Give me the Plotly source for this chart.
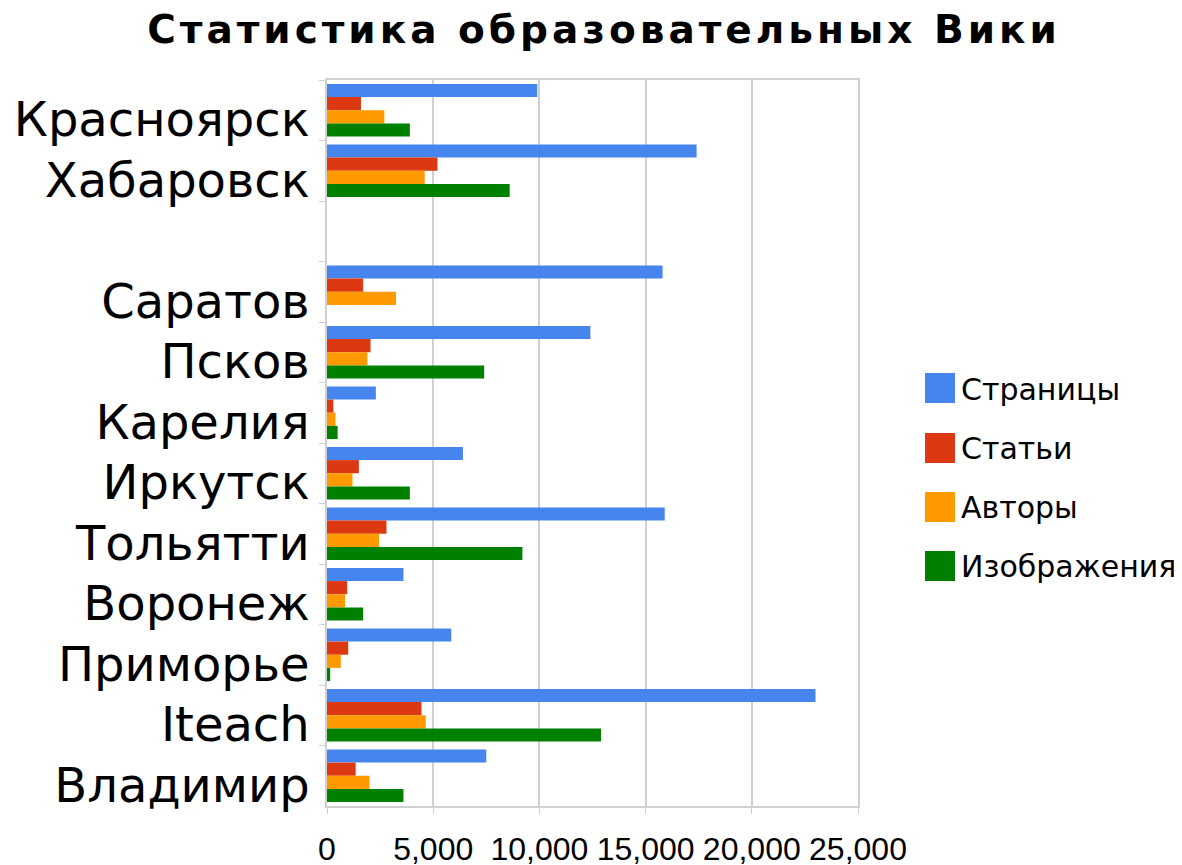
import plotly.graph_objects as go

categories = ["Красноярск", "Хабаровск", " ", "Саратов", "Псков", "Карелия",
              "Иркутск", "Тольятти", "Воронеж", "Приморье", "Iteach", "Владимир"]
pages    = [9900, 17400, None, 15800, 12400, 2300, 6400, 15900, 3600, 5850, 23000, 7500]
articles = [1600, 5200, None, 1700, 2050, 300, 1500, 2800, 950, 1000, 4450, 1350]
authors  = [2700, 4600, None, 3250, 1900, 400, 1200, 2450, 850, 650, 4650, 2000]
images   = [3900, 8600, None, 0, 7400, 500, 3900, 9200, 1700, 150, 12900, 3600]

series_names = ["Страницы", "Статьи", "Авторы", "Изображения"]
series_values = [pages, articles, authors, images]
colors = ["#4684EE", "#DC3912", "#FF9900", "#008000"]
x_ticks = [0, 5000, 10000, 15000, 20000, 25000]

W, H = 1182, 865
OFF = 8  # page body margin offset
# plot area in page pixels, converted to figure pixels
PL, PR, PT, PB = 327 - OFF, 858 - OFF, 80 - OFF, 806 - OFF


def px_x(x):
    return (x - OFF - PL) / (PR - PL)


def px_y(y):
    return (PB - (y - OFF)) / (PB - PT)


fig = go.Figure()
for name, vals, col in zip(series_names, series_values, colors):
    fig.add_trace(go.Bar(
        y=categories, x=vals, name=name, orientation="h",
        marker=dict(color=col, line=dict(width=0)),
        legendgroup=name,
    ))

# larger legend swatches drawn behind the legend's own symbols
legend_centers = [388, 448, 507, 566]
for yc, col in zip(legend_centers, colors):
    fig.add_shape(type="rect", xref="paper", yref="paper",
                  x0=px_x(925), x1=px_x(955),
                  y0=px_y(yc + 15), y1=px_y(yc - 15),
                  fillcolor=col, line=dict(width=0), layer="above")

fig.update_layout(
    width=W, height=H,
    margin=dict(l=PL, r=W - PR, t=PT, b=H - PB, autoexpand=False),
    plot_bgcolor="white", paper_bgcolor="white",
    barmode="group", bargap=0.13, bargroupgap=0,
    title=dict(text="<b><span style='letter-spacing:4px'>Статистика образовательных Вики</span></b>",
               font=dict(family="DejaVu Sans", size=39, color="black"),
               x=(604 - OFF) / W, xanchor="center", y=1 - (29 - OFF) / H, yanchor="middle"),
    legend=dict(x=px_x(921), xanchor="left",
                y=px_y(477), yanchor="middle",
                font=dict(family="DejaVu Sans", size=30, color="black"),
                tracegroupgap=17, bgcolor="rgba(0,0,0,0)"),
    showlegend=True,
)
fig.update_xaxes(
    range=[0, 25000], tickvals=x_ticks, tickformat=",", automargin=False,
    showgrid=True, gridcolor="#d0d0d0", gridwidth=1.5,
    zeroline=False, showline=True, linecolor="#d0d0d0", linewidth=1.5, mirror=True,
    ticks="outside", ticklen=6, tickcolor="#d0d0d0",
    tickfont=dict(family="Liberation Sans", size=32, color="black"),
    ticklabelstandoff=8,
)
fig.update_yaxes(
    categoryorder="array", categoryarray=categories, autorange="reversed",
    automargin=False,
    showgrid=False, showline=True, linecolor="#d0d0d0", linewidth=1.5, mirror=True,
    ticks="outside", tickson="boundaries", ticklen=6, tickcolor="#d0d0d0",
    tickfont=dict(family="DejaVu Sans", size=48, color="black"),
    ticklabelstandoff=6, ticklabelshift=-9,
)

fig.write_html("out.html")
